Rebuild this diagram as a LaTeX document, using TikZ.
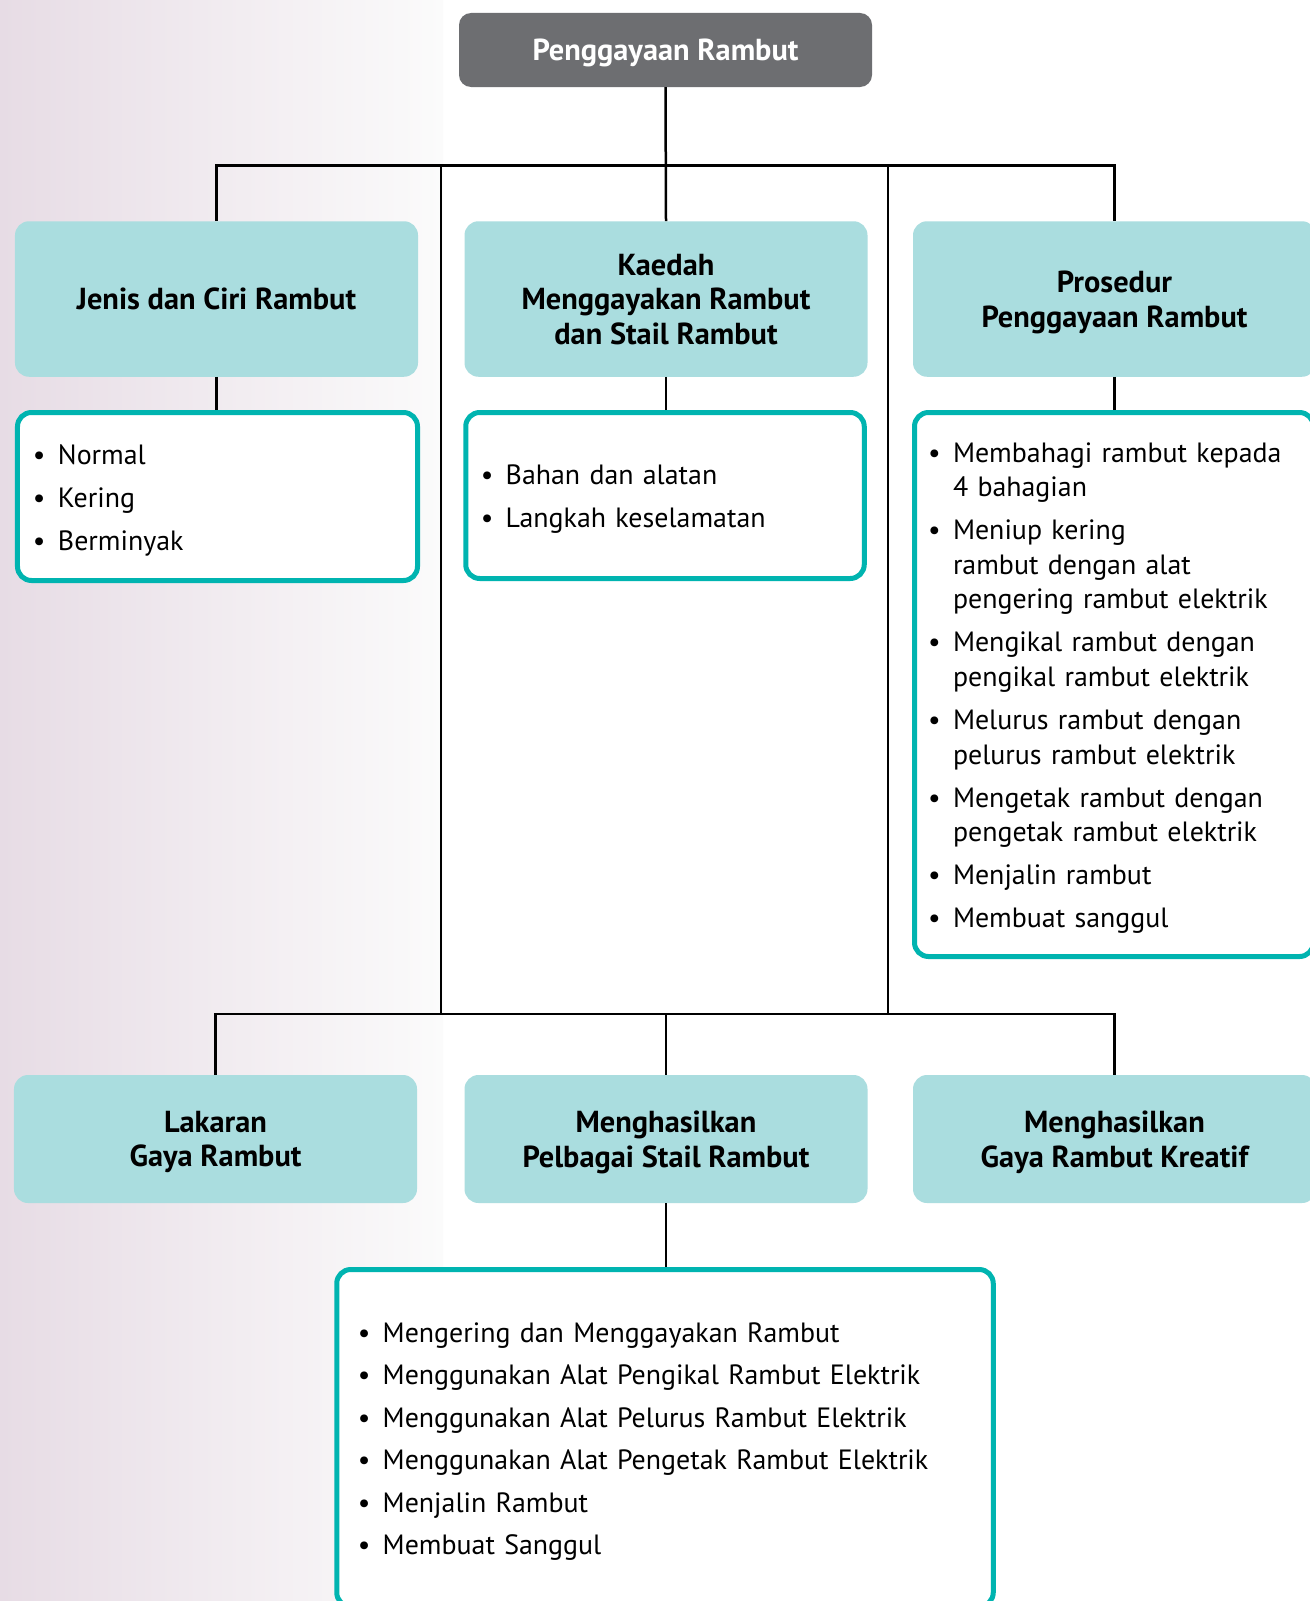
\documentclass[tikz,border=0pt]{standalone}
\usepackage{fontspec}
\setmainfont{PT Sans}
\definecolor{topgray}{RGB}{109,110,113}
\definecolor{lteal}{RGB}{170,221,223}
\definecolor{tealb}{RGB}{0,180,176}
\definecolor{bgpink}{RGB}{231,220,229}
\definecolor{bgend}{RGB}{251,251,251}
\newcommand\li{\makebox[25bp][l]{\textbullet}}
\newcommand\lc{\hspace*{25bp}}
\newcommand\ltop{\rule{0pt}{27bp}}
\begin{document}
\begin{tikzpicture}[
  x=1bp, y=-1bp,
  conn/.style={line width=2.5bp, black},
  topbox/.style={fill=topgray, rounded corners=12bp, minimum width=413bp, minimum height=74bp,
    text=white, font=\bfseries\fontsize{30.5}{34.7}\selectfont, inner sep=0pt, text depth=0pt},
  headbox/.style={fill=lteal, rounded corners=14bp, minimum width=403bp, align=center,
    font=\bfseries\fontsize{30.5}{34.7}\selectfont, inner sep=0pt, text depth=0pt},
  listbox/.style={draw=tealb, line width=5bp, fill=white, rounded corners=14bp, align=left,
    font=\fontsize{28}{34.7}\selectfont, inner ysep=0pt},
]
\useasboundingbox (0,0) rectangle (1310,1601);
\fill[white] (0,0) rectangle (1310,1601);
\shade[left color=bgpink, right color=bgend] (0,0) rectangle (443,1601);

% top
\node[topbox] (top) at (665.5,50) {Penggayaan Rambut};

% row 1
\node[headbox, minimum height=155.5bp] (A) at (216.5,299) {Jenis dan Ciri Rambut};
\node[headbox, minimum height=155.5bp] (B) at (666,299) {Kaedah\\Menggayakan Rambut\\dan Stail Rambut};
\node[headbox, minimum height=155.5bp] (C) at (1114.5,299) {Prosedur\\Penggayaan Rambut};

% lists
\node[listbox, text width=369bp, inner xsep=15.5bp, minimum height=168bp] (LA) at (217.5,496.5)
  {\ltop\li Normal\\[8.5bp]\li Kering\\[8.5bp]\li Berminyak};
\node[listbox, text width=368.5bp, inner xsep=15bp, minimum height=166bp] (LB) at (665,495.5)
  {\ltop\li Bahan dan alatan\\[8.5bp]\li Langkah keselamatan};
\node[listbox, text width=372bp, inner xsep=13.5bp, minimum height=544bp] (LC) at (1114,684.5)
  {\ltop\li Membahagi rambut kepada\\\lc 4 bahagian\\[8.5bp]
   \li Meniup kering\\\lc rambut dengan alat\\\lc pengering rambut elektrik\\[8.5bp]
   \li Mengikal rambut dengan\\\lc pengikal rambut elektrik\\[8.5bp]
   \li Melurus rambut dengan\\\lc pelurus rambut elektrik\\[8.5bp]
   \li Mengetak rambut dengan\\\lc pengetak rambut elektrik\\[8.5bp]
   \li Menjalin rambut\\[8.5bp]
   \li Membuat sanggul};

% row 3
\node[headbox, minimum height=128bp] (D) at (215.5,1139) {Lakaran\\Gaya Rambut};
\node[headbox, minimum height=128bp] (E) at (666,1139) {Menghasilkan\\Pelbagai Stail Rambut};
\node[headbox, minimum height=128bp] (F) at (1114.5,1139) {Menghasilkan\\Gaya Rambut Kreatif};

\node[listbox, text width=614.5bp, inner xsep=21bp, minimum height=337bp] (G) at (665,1438)
  {\ltop\li Mengering dan Menggayakan Rambut\\[8bp]
   \li Menggunakan Alat Pengikal Rambut Elektrik\\[8bp]
   \li Menggunakan Alat Pelurus Rambut Elektrik\\[8bp]
   \li Menggunakan Alat Pengetak Rambut Elektrik\\[8bp]
   \li Menjalin Rambut\\[8bp]
   \li Membuat Sanggul};

% connectors
\coordinate (j1t) at (441,166); \coordinate (j1b) at (441,1014);
\coordinate (j2t) at (888,166); \coordinate (j2b) at (888,1014);
\draw[conn] (top.south) -- (B.north);
\draw[conn] (A.north) -- ++(0,-55.5) -| (C.north);
\draw[conn] (A.south) -- (A.south |- LA.north);
\draw[conn] (B.south) -- (B.south |- LB.north);
\draw[conn] (C.south) -- (C.south |- LC.north);
\draw[conn] (j1t) -- (j1b);
\draw[conn] (j2t) -- (j2b);
\draw[conn] (D.north) -- ++(0,-61) -| (F.north);
\draw[conn] (E.north) -- ++(0,-61);
\draw[conn] (E.south) -- (E.south |- G.north);
\end{tikzpicture}
\end{document}
